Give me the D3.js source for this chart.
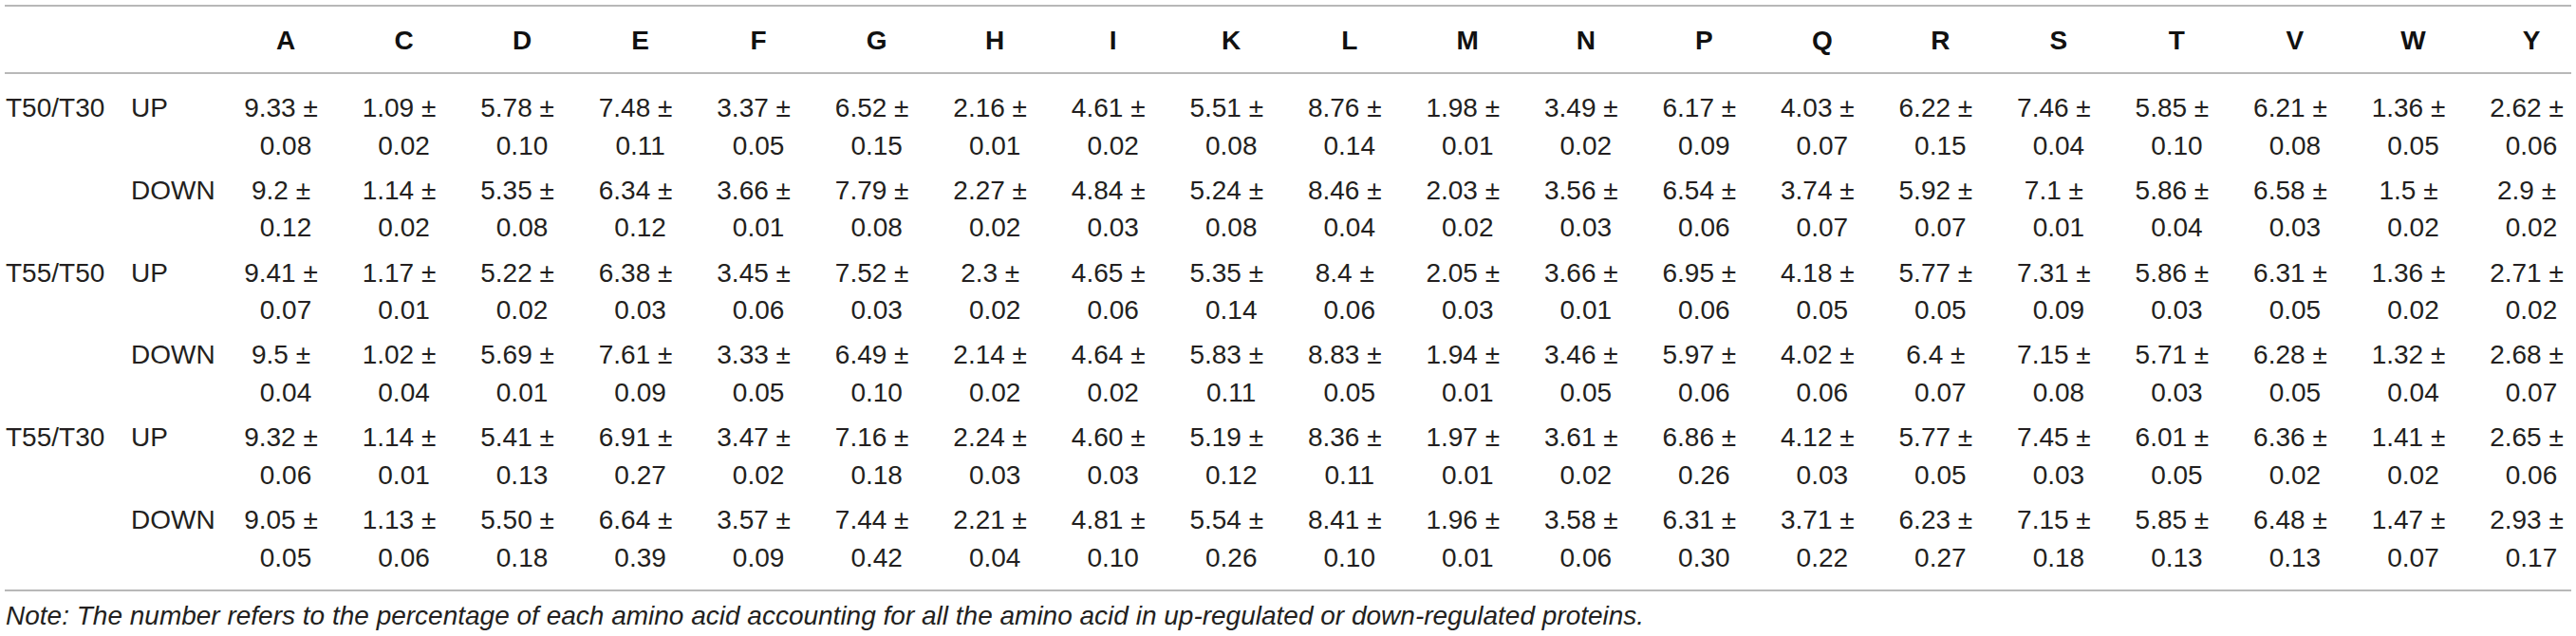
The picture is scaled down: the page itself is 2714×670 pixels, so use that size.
<!DOCTYPE html>
<html>
<head>
<meta charset="utf-8">
<script src="https://cdn.jsdelivr.net/npm/d3@7"></script>
<style>
  body { margin: 0; background: #fff; }
  text { font-family: "Liberation Sans", Arial, sans-serif; }
</style>
</head>
<body>
<div id="chart"></div>
<script>
  // amino acids (columns)
  var aminoAcids = ['A', 'C', 'D', 'E', 'F', 'G', 'H', 'I', 'K', 'L', 'M', 'N', 'P', 'Q', 'R', 'S', 'T', 'V', 'W', 'Y'];

  // row labels
  var comparisons = ['T50/T30', '', 'T55/T50', '', 'T55/T30', ''];
  var directions = ['UP', 'DOWN', 'UP', 'DOWN', 'UP', 'DOWN'];

  // means (kept as printed)
  var t50t30UpMean = ['9.33', '1.09', '5.78', '7.48', '3.37', '6.52', '2.16', '4.61', '5.51', '8.76', '1.98', '3.49', '6.17', '4.03', '6.22', '7.46', '5.85', '6.21', '1.36', '2.62'];
  var t50t30DownMean = ['9.2', '1.14', '5.35', '6.34', '3.66', '7.79', '2.27', '4.84', '5.24', '8.46', '2.03', '3.56', '6.54', '3.74', '5.92', '7.1', '5.86', '6.58', '1.5', '2.9'];
  var t55t50UpMean = ['9.41', '1.17', '5.22', '6.38', '3.45', '7.52', '2.3', '4.65', '5.35', '8.4', '2.05', '3.66', '6.95', '4.18', '5.77', '7.31', '5.86', '6.31', '1.36', '2.71'];
  var t55t50DownMean = ['9.5', '1.02', '5.69', '7.61', '3.33', '6.49', '2.14', '4.64', '5.83', '8.83', '1.94', '3.46', '5.97', '4.02', '6.4', '7.15', '5.71', '6.28', '1.32', '2.68'];
  var t55t30UpMean = ['9.32', '1.14', '5.41', '6.91', '3.47', '7.16', '2.24', '4.60', '5.19', '8.36', '1.97', '3.61', '6.86', '4.12', '5.77', '7.45', '6.01', '6.36', '1.41', '2.65'];
  var t55t30DownMean = ['9.05', '1.13', '5.50', '6.64', '3.57', '7.44', '2.21', '4.81', '5.54', '8.41', '1.96', '3.58', '6.31', '3.71', '6.23', '7.15', '5.85', '6.48', '1.47', '2.93'];

  // standard deviations
  var t50t30UpSd = ['0.08', '0.02', '0.10', '0.11', '0.05', '0.15', '0.01', '0.02', '0.08', '0.14', '0.01', '0.02', '0.09', '0.07', '0.15', '0.04', '0.10', '0.08', '0.05', '0.06'];
  var t50t30DownSd = ['0.12', '0.02', '0.08', '0.12', '0.01', '0.08', '0.02', '0.03', '0.08', '0.04', '0.02', '0.03', '0.06', '0.07', '0.07', '0.01', '0.04', '0.03', '0.02', '0.02'];
  var t55t50UpSd = ['0.07', '0.01', '0.02', '0.03', '0.06', '0.03', '0.02', '0.06', '0.14', '0.06', '0.03', '0.01', '0.06', '0.05', '0.05', '0.09', '0.03', '0.05', '0.02', '0.02'];
  var t55t50DownSd = ['0.04', '0.04', '0.01', '0.09', '0.05', '0.10', '0.02', '0.02', '0.11', '0.05', '0.01', '0.05', '0.06', '0.06', '0.07', '0.08', '0.03', '0.05', '0.04', '0.07'];
  var t55t30UpSd = ['0.06', '0.01', '0.13', '0.27', '0.02', '0.18', '0.03', '0.03', '0.12', '0.11', '0.01', '0.02', '0.26', '0.03', '0.05', '0.03', '0.05', '0.02', '0.02', '0.06'];
  var t55t30DownSd = ['0.05', '0.06', '0.18', '0.39', '0.09', '0.42', '0.04', '0.10', '0.26', '0.10', '0.01', '0.06', '0.30', '0.22', '0.27', '0.18', '0.13', '0.13', '0.07', '0.17'];

  var noteText = 'Note: The number refers to the percentage of each amino acid accounting for all the amino acid in up-regulated or down-regulated proteins.';

  var means = [t50t30UpMean, t50t30DownMean, t55t50UpMean, t55t50DownMean, t55t30UpMean, t55t30DownMean];
  var sds = [t50t30UpSd, t50t30DownSd, t55t50UpSd, t55t50DownSd, t55t30UpSd, t55t30DownSd];

  var width = 2714;
  var height = 670;
  var fontSize = 28;
  var lineGap = 39.5;
  var ruleColor = '#a0a0a0';
  var textColor = '#231f20';

  var svg = d3.select('#chart').append('svg')
    .attr('width', width)
    .attr('height', height);

  var x = d3.scalePoint().domain(aminoAcids).range([301, 2667]);
  var y = d3.scalePoint().domain(d3.range(directions.length)).range([123, 557]);

  // horizontal rules
  [6, 77, 622].forEach(function(yy) {
    svg.append('line')
      .attr('x1', 5)
      .attr('x2', 2709)
      .attr('y1', yy)
      .attr('y2', yy)
      .attr('stroke', ruleColor)
      .attr('stroke-width', 1.6);
  });

  // header
  svg.append('g').selectAll('text')
    .data(aminoAcids)
    .enter().append('text')
    .attr('x', function(d) { return x(d); })
    .attr('y', 52)
    .attr('text-anchor', 'middle')
    .attr('font-size', fontSize)
    .attr('font-weight', 'bold')
    .attr('fill', '#111')
    .text(function(d) { return d; });

  // row labels
  var rows = svg.append('g').selectAll('g')
    .data(directions)
    .enter().append('g')
    .attr('transform', function(d, i) { return 'translate(0,' + y(i) + ')'; });

  rows.append('text')
    .attr('x', 6)
    .attr('font-size', fontSize)
    .attr('fill', textColor)
    .text(function(d, i) { return comparisons[i]; });

  rows.append('text')
    .attr('x', 138)
    .attr('font-size', fontSize)
    .attr('fill', textColor)
    .text(function(d) { return d; });

  // cells: mean ± on first line, sd on the second
  rows.each(function(d, i) {
    var cells = d3.select(this).selectAll('g.cell')
      .data(aminoAcids)
      .enter().append('g')
      .attr('class', 'cell')
      .attr('transform', function(a) { return 'translate(' + x(a) + ',0)'; });

    cells.append('text')
      .attr('x', -5)
      .attr('text-anchor', 'middle')
      .attr('font-size', fontSize)
      .attr('fill', textColor)
      .text(function(a, j) { return means[i][j] + ' \u00b1'; });

    cells.append('text')
      .attr('y', lineGap)
      .attr('text-anchor', 'middle')
      .attr('font-size', fontSize)
      .attr('fill', textColor)
      .text(function(a, j) { return sds[i][j]; });
  });

  // footnote
  svg.append('text')
    .attr('x', 6)
    .attr('y', 658)
    .attr('font-size', fontSize)
    .attr('font-style', 'italic')
    .attr('fill', textColor)
    .text(noteText);
</script>
</body>
</html>
